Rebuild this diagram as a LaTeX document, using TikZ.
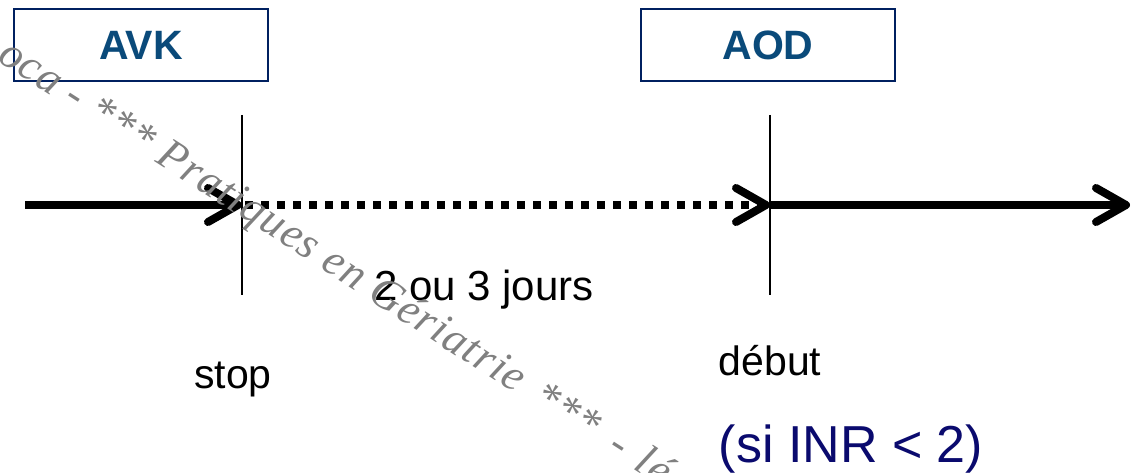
\documentclass[tikz,border=0pt]{standalone}
\usepackage{fontspec}
\setmainfont{Liberation Sans}
\newfontfamily\wmfont[LetterSpace=3]{Liberation Serif}
\usetikzlibrary{arrows.meta}
\definecolor{boxnavy}{RGB}{0,32,96}
\definecolor{titleblue}{RGB}{10,74,122}
\definecolor{inrnavy}{RGB}{10,10,110}
\definecolor{wmgray}{RGB}{128,128,128}
\begin{document}
\begin{tikzpicture}[x=1pt,y=-1pt,
 titlebox/.style={draw=boxnavy, line width=2.5pt, minimum width=254pt, minimum height=72pt, inner sep=0pt, text=titleblue, font=\fontsize{41}{41}\selectfont\bfseries},
 lbl/.style={inner sep=0pt, anchor=base, font=\fontsize{41}{41}\selectfont},
 timeline/.style={line width=8pt, -{Straight Barb[length=30pt,width=34pt,round]}},
 dotline/.style={timeline, dash pattern=on 8pt off 8pt},
 tick/.style={line width=2pt},
 wm/.style={inner sep=0pt, text=wmgray, font=\fontsize{44.5}{44.5}\selectfont\wmfont\itshape},
]
\useasboundingbox (0,0) rectangle (1132,473);
\fill[white] (0,0) rectangle (1132,473);
% boxes
\node[titlebox] (avk) at (141,45) {AVK};
\node[titlebox] (aod) at (768,45) {AOD};
% timeline coordinates
\coordinate (t0) at (25,205);
\coordinate (t1) at (242,205);
\coordinate (t1s) at (245,205);
\coordinate (t2) at (770,205);
\coordinate (t3) at (1130,205);
\coordinate (v1a) at (242,115);
\coordinate (v1b) at (242,295);
\coordinate (v2a) at (770,115);
\coordinate (v2b) at (770,295);
\draw[tick] (v1a) -- (v1b);
\draw[tick] (v2a) -- (v2b);
\draw[timeline] (t0) -- (t1);
\draw[dotline] (t1s) -- (t2);
\draw[timeline] (t2) -- (t3);
% labels
\node[lbl, font=\fontsize{42}{42}\selectfont] (days) at (484,300) {2 ou 3 jours};
\node[lbl] (stop) at (233,388) {stop};
\node[lbl] (debut) at (770,375) {début};
\node[lbl, text=inrnavy, font=\fontsize{52}{52}\selectfont] (inr) at (851,462) {(si INR < 2)};
% watermark
\begin{scope}
\clip (0,0) rectangle (1132,473);
\node[wm, rotate=-32.7, anchor=base west] (wmark) at (-4,60) {oca - *** Pratiques en Gériatrie\hspace{6pt} ***\hspace{8pt} -\hspace{4pt} lé};
\end{scope}
\end{tikzpicture}
\end{document}
